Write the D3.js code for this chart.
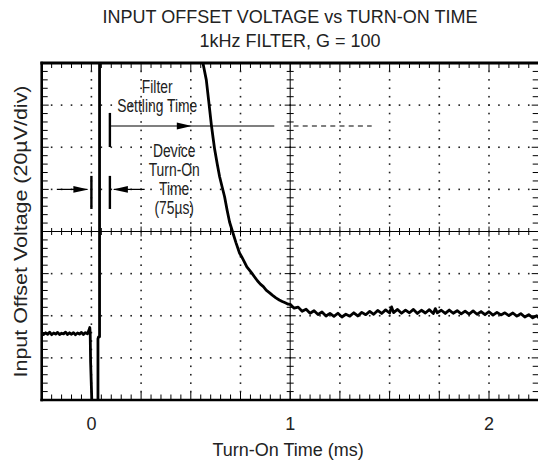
<!DOCTYPE html>
<html>
<head>
  <meta http-equiv="content-type" content="text/html; charset=utf-8">
  <title>Input Offset Voltage vs Turn-On Time</title>
  <style>
    body { margin: 0; background: #fff; }
    text { font-family: "Liberation Sans", Arial, sans-serif; fill: #222; }
    .title, .axis_label, .tick_label { font-size: 18px; text-anchor: middle; }
    .note { font-size: 18px; text-anchor: middle; }
    .frame { stroke: #000; fill: none; }
    .tick, .center { stroke: #000; stroke-width: 1; }
    .dot { fill: #222; }
    .trace { fill: none; stroke: #000; stroke-width: 2.8; stroke-linejoin: round; }
    .marker { stroke: #000; fill: none; }
    .head { fill: #000; }
  </style>
</head>
<body>
  <svg id="canvas"></svg>
  <script src="https://d3js.org/d3.v7.min.js"></script>
  <script>

    // chart text
    const titleLines = ["INPUT OFFSET VOLTAGE vs TURN-ON TIME", "1kHz FILTER, G = 100"];
    const xLabel = "Turn-On Time (ms)";
    const yLabel = "Input Offset Voltage (20\u00b5V/div)";
    const xTicks = [0, 1, 2];
    const settleNote = ["Filter", "Settling Time"];
    const turnOnNote = ["Device", "Turn-On", "Time", "(75\u00b5s)"];

    // scope trace, time in ms, offset in uV (20uV/div, 0 = centre line)
    const traceT = [
      -0.25, -0.24, -0.23, -0.22, -0.21, -0.20, -0.19, -0.18, -0.17, -0.16, -0.15, -0.14, -0.13,
      -0.12, -0.11, -0.10, -0.09, -0.08, -0.07, -0.06, -0.05, -0.04, -0.03, -0.02, -0.012, -0.008,
      -0.006, -0.004, 0.004, 0.033, 0.033, 0.036, 0.041, 0.041, 0.552,
      0.561, 0.578, 0.590, 0.603, 0.612, 0.620, 0.633, 0.645, 0.658, 0.670, 0.683, 0.695, 0.712,
      0.728, 0.745, 0.757, 0.770, 0.782, 0.795, 0.807, 0.820, 0.835, 0.850, 0.865, 0.879, 0.895,
      0.910, 0.928, 0.945, 0.960, 0.975, 0.990,
      1.00, 1.02, 1.04, 1.06, 1.08, 1.10, 1.12, 1.14, 1.16, 1.18, 1.20, 1.22, 1.24, 1.26, 1.28,
      1.30, 1.32, 1.34, 1.36, 1.38, 1.40, 1.42, 1.44, 1.46, 1.48, 1.50, 1.51, 1.52, 1.54, 1.56,
      1.58, 1.60, 1.62, 1.64, 1.66, 1.68, 1.70, 1.72, 1.73, 1.74, 1.76, 1.78, 1.80, 1.82, 1.84,
      1.86, 1.88, 1.90, 1.92, 1.94, 1.96, 1.98, 2.00, 2.02, 2.04, 2.06, 2.08, 2.10, 2.12, 2.14,
      2.16, 2.18, 2.20, 2.22, 2.24, 2.25
    ];
    const traceV = [
      -47.9, -48.9, -48.1, -48.8, -47.8, -49.0, -48.2, -48.7, -47.9, -48.9, -48.3, -48.6, -47.8,
      -48.9, -48.1, -48.8, -48.0, -49.0, -48.2, -48.7, -47.9, -48.9, -48.0, -48.6, -46.8, -45.6,
      -48.5, -62.0, -86.0, -86.0, -51.0, -50.0, -50.0, 90.0, 90.0,
      80.0, 72.0, 62.0, 51.0, 44.5, 39.0, 32.0, 26.0, 21.0, 16.5, 10.0, 4.5, -0.7,
      -5.5, -10.2, -12.2, -14.5, -16.8, -18.3, -19.8, -21.5, -23.4, -25.0, -26.2, -27.8, -29.0,
      -30.2, -31.5, -32.5, -33.2, -33.8, -34.5,
      -34.6, -36.4, -35.9, -37.9, -36.9, -38.8, -37.6, -39.4, -38.2, -40.1, -38.9, -40.3, -38.8, -40.6, -39.3,
      -40.2, -38.6, -40.1, -38.4, -39.5, -37.9, -39.3, -37.5, -38.9, -37.2, -38.7, -35.8, -38.5, -37.0, -38.8,
      -37.3, -38.6, -37.0, -38.9, -37.4, -38.7, -37.1, -38.9, -36.6, -38.6, -37.4, -38.9, -37.3, -38.8, -37.6,
      -39.1, -37.8, -39.2, -37.7, -39.3, -38.0, -39.5, -38.1, -39.7, -38.4, -39.6, -38.6, -39.9, -38.7, -40.2,
      -39.0, -40.6, -39.5, -41.0, -40.0, -40.9
    ];

    // annotation anchors in data units
    const settleMark = { t: 0.093, vTop: 56.3, vBot: 40.1, v: 50.1, head: 0.505, solidEnd: 0.92, dashEnd: 1.41 };
    const turnOnMark = { t0: 0, t1: 0.093, vTop: 26.4, vBot: 10.7, v: 20.0, from: -0.174, to: 0.268 };
    const settleText = { t: 0.331, v: 65.6 };
    const turnOnText = { t: 0.4165, v: 35.5 };

    const dims = { width: 538, height: 460, left: 41.7, right: 538.7, top: 63, bottom: 400, line_h: 19 };

    const svg = d3.select("svg#canvas")
      .attr("width", dims.width)
      .attr("height", dims.height);

    const x = d3.scaleLinear().domain([-0.25, 2.25]).range([dims.left, dims.right]);
    const y = d3.scaleLinear().domain([-80, 80]).range([dims.bottom, dims.top]);

    const majorT = d3.range(0, 11).map(i => -0.25 + i * 0.25);
    const minorT = d3.range(0, 51).map(i => -0.25 + i * 0.05);
    const majorV = d3.range(0, 9).map(i => -80 + i * 20);
    const minorV = d3.range(0, 41).map(i => -80 + i * 4);
    const near = (a, b) => Math.abs(a - b) < 1e-6;

    // dotted graticule
    const dots = [];
    majorV.filter(v => !near(Math.abs(v), 80) && !near(v, 0)).forEach(v => {
      minorT.forEach(t => dots.push({ t, v }));
    });
    majorT.filter(t => !near(t, -0.25) && !near(t, 2.25) && !near(t, 1)).forEach(t => {
      minorV.forEach(v => dots.push({ t, v }));
    });
    svg.append("g").selectAll(".dot")
      .data(dots)
      .enter().append("rect")
      .attr("class", "dot")
      .attr("x", d => x(d.t) - 0.8)
      .attr("y", d => y(d.v) - 0.8)
      .attr("width", 1.6)
      .attr("height", 1.6);

    // centre cross lines with ticks
    svg.append("line").attr("class", "center")
      .attr("x1", x(1)).attr("x2", x(1)).attr("y1", y(80)).attr("y2", y(-80));
    svg.append("line").attr("class", "center")
      .attr("x1", x(-0.25)).attr("x2", x(2.25)).attr("y1", y(0)).attr("y2", y(0));

    const isMajorT = t => majorT.some(m => near(m, t));
    const isMajorV = v => majorV.some(m => near(m, v));
    const ticks = svg.append("g");

    ticks.selectAll(".tick_h")
      .data(minorT)
      .enter().append("line")
      .attr("class", "tick")
      .attr("x1", t => x(t)).attr("x2", t => x(t))
      .attr("y1", t => y(0) - (isMajorT(t) ? 5 : 3.5))
      .attr("y2", t => y(0) + (isMajorT(t) ? 5 : 3.5));
    ticks.selectAll(".tick_v")
      .data(minorV)
      .enter().append("line")
      .attr("class", "tick")
      .attr("x1", v => x(1) - (isMajorV(v) ? 5.5 : 3.5))
      .attr("x2", v => x(1) + (isMajorV(v) ? 5.5 : 3.5))
      .attr("y1", v => y(v)).attr("y2", v => y(v));

    // frame ticks
    ticks.selectAll(".tick_top")
      .data(minorT)
      .enter().append("line")
      .attr("class", "tick")
      .attr("x1", t => x(t)).attr("x2", t => x(t))
      .attr("y1", y(80)).attr("y2", t => y(80) + (isMajorT(t) ? 8 : 5));
    ticks.selectAll(".tick_bottom")
      .data(minorT)
      .enter().append("line")
      .attr("class", "tick")
      .attr("x1", t => x(t)).attr("x2", t => x(t))
      .attr("y1", y(-80)).attr("y2", t => y(-80) - (isMajorT(t) ? 8 : 5.5));
    ticks.selectAll(".tick_left")
      .data(minorV)
      .enter().append("line")
      .attr("class", "tick")
      .attr("x1", x(-0.25)).attr("x2", v => x(-0.25) + (isMajorV(v) ? 7 : 6))
      .attr("y1", v => y(v)).attr("y2", v => y(v));
    ticks.selectAll(".tick_right")
      .data(minorV)
      .enter().append("line")
      .attr("class", "tick")
      .attr("x1", x(2.25)).attr("x2", v => x(2.25) - (isMajorV(v) ? 7 : 6))
      .attr("y1", v => y(v)).attr("y2", v => y(v));

    // frame
    svg.append("line").attr("class", "frame").attr("stroke-width", 2.6)
      .attr("x1", x(-0.25)).attr("x2", x(-0.25)).attr("y1", y(80) - 1.3).attr("y2", y(-80) + 1.3);
    svg.append("line").attr("class", "frame").attr("stroke-width", 2.8)
      .attr("x1", x(-0.25) - 1.3).attr("x2", x(2.25)).attr("y1", y(80)).attr("y2", y(80));
    svg.append("line").attr("class", "frame").attr("stroke-width", 2.6)
      .attr("x1", x(-0.25) - 1.3).attr("x2", x(2.25)).attr("y1", y(-80)).attr("y2", y(-80));

    // trace
    svg.append("clipPath").attr("id", "plot_clip")
      .append("rect")
      .attr("x", x(-0.25)).attr("y", y(80))
      .attr("width", x(2.25) - x(-0.25)).attr("height", y(-80) - y(80));

    const line = d3.line().x(i => x(traceT[i])).y(i => y(traceV[i]));
    svg.append("path")
      .attr("class", "trace")
      .attr("clip-path", "url(#plot_clip)")
      .attr("d", line(d3.range(traceT.length)));

    // annotation markers
    const arrowHead = (tipX, tipY, dir) => {
      const len = 15, half = 3.4;
      return "M" + tipX + "," + tipY +
        "L" + (tipX - dir * len) + "," + (tipY - half) +
        "L" + (tipX - dir * len) + "," + (tipY + half) + "Z";
    };
    const marks = svg.append("g");

    marks.append("line").attr("class", "marker").attr("stroke-width", 2.4)
      .attr("x1", x(settleMark.t)).attr("x2", x(settleMark.t))
      .attr("y1", y(settleMark.vTop)).attr("y2", y(settleMark.vBot));
    marks.append("line").attr("class", "marker").attr("stroke-width", 1.2)
      .attr("x1", x(settleMark.t)).attr("x2", x(settleMark.solidEnd))
      .attr("y1", y(settleMark.v)).attr("y2", y(settleMark.v));
    marks.append("line").attr("class", "marker").attr("stroke-width", 1.2)
      .attr("stroke-dasharray", "5,4.2")
      .attr("x1", x(settleMark.solidEnd) + 10).attr("x2", x(settleMark.dashEnd))
      .attr("y1", y(settleMark.v)).attr("y2", y(settleMark.v));
    marks.append("path").attr("class", "head")
      .attr("d", arrowHead(x(settleMark.head), y(settleMark.v), 1));

    [turnOnMark.t0, turnOnMark.t1].forEach(t => {
      marks.append("line").attr("class", "marker").attr("stroke-width", 2.4)
        .attr("x1", x(t)).attr("x2", x(t))
        .attr("y1", y(turnOnMark.vTop)).attr("y2", y(turnOnMark.vBot));
    });
    marks.append("line").attr("class", "marker").attr("stroke-width", 1.2)
      .attr("x1", x(turnOnMark.from)).attr("x2", x(turnOnMark.t0) - 4)
      .attr("y1", y(turnOnMark.v)).attr("y2", y(turnOnMark.v));
    marks.append("path").attr("class", "head")
      .attr("d", arrowHead(x(turnOnMark.t0) - 3, y(turnOnMark.v), 1));
    marks.append("line").attr("class", "marker").attr("stroke-width", 1.2)
      .attr("x1", x(turnOnMark.t1) + 4).attr("x2", x(turnOnMark.to))
      .attr("y1", y(turnOnMark.v)).attr("y2", y(turnOnMark.v));
    marks.append("path").attr("class", "head")
      .attr("d", arrowHead(x(turnOnMark.t1) + 3, y(turnOnMark.v), -1));

    // condensed annotation text
    const addNote = (lines, anchor) => {
      svg.append("g").selectAll(".note_line")
        .data(lines)
        .enter().append("text")
        .attr("class", "note")
        .attr("x", x(anchor.t))
        .attr("y", (_, i) => y(anchor.v) + i * dims.line_h)
        .text(s => s)
        .each(function () {
          const w = this.getComputedTextLength();
          d3.select(this).attr("textLength", w * 0.77).attr("lengthAdjust", "spacingAndGlyphs");
        });
    };
    addNote(settleNote, settleText);
    addNote(turnOnNote, turnOnText);

    // titles and axis text
    svg.selectAll(".title")
      .data(titleLines)
      .enter().append("text")
      .attr("class", "title")
      .attr("x", 290)
      .attr("y", (_, i) => 22.7 + i * 24)
      .text(s => s);

    svg.selectAll(".tick_label")
      .data(xTicks)
      .enter().append("text")
      .attr("class", "tick_label")
      .attr("x", t => x(t))
      .attr("y", 430)
      .text(t => t);

    svg.append("text")
      .attr("class", "axis_label")
      .attr("x", x(1) - 2)
      .attr("y", 456)
      .text(xLabel);

    svg.append("text")
      .attr("class", "axis_label")
      .attr("transform", "translate(26.5," + y(0) + ")rotate(-90)")
      .attr("textLength", 292)
      .attr("lengthAdjust", "spacingAndGlyphs")
      .text(yLabel);

  </script>
</body>
</html>
